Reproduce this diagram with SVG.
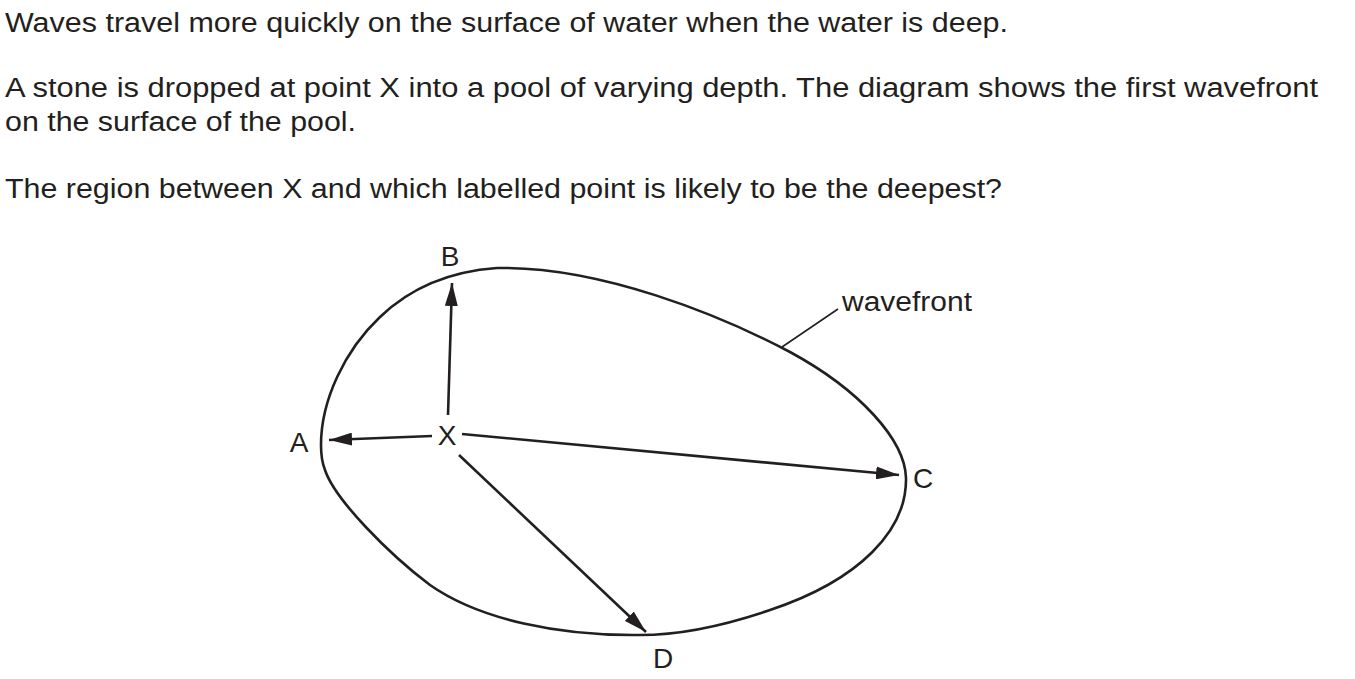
<svg xmlns="http://www.w3.org/2000/svg" width="1355" height="679" viewBox="0 0 1355 679">
<style>
text{font-family:"Liberation Sans",Arial,sans-serif;font-size:27px;fill:#231f20}
.lbl{text-anchor:middle;font-size:28px}
.ln{stroke:#231f20;stroke-width:2.6;fill:none}
</style>
<defs>
<marker id="ah" markerWidth="23" markerHeight="13" refX="23" refY="6.5" orient="auto" markerUnits="userSpaceOnUse">
<path d="M0,0 L23,6.5 L0,13 Z" fill="#231f20"/>
</marker>
</defs>
<rect width="1355" height="679" fill="#fff"/>
<g id="question">
<text x="5" y="32" textLength="1003" lengthAdjust="spacingAndGlyphs">Waves travel more quickly on the surface of water when the water is deep.</text>
<text x="5" y="97" textLength="1313" lengthAdjust="spacingAndGlyphs">A stone is dropped at point X into a pool of varying depth. The diagram shows the first wavefront</text>
<text x="5" y="131" textLength="351" lengthAdjust="spacingAndGlyphs">on the surface of the pool.</text>
<text x="5" y="198" textLength="997" lengthAdjust="spacingAndGlyphs">The region between X and which labelled point is likely to be the deepest?</text>
</g>
<g id="wavefront">
<path class="ln" d="M321,445 C321,400 345,350 380,317 C405,293 440,272 497,268 C600,266 720,315 790,352 C860,390 905,440 906,478 C907,530 860,580 770,610 C720,627 680,635 640,635 C560,636 480,620 430,585 C390,555 335,500 325,470 C321,460 321,450 321,445 Z"/>
<line x1="782" y1="347" x2="838" y2="309" stroke="#231f20" stroke-width="1.6"/>
<text x="842" y="311" textLength="130" lengthAdjust="spacingAndGlyphs">wavefront</text>
</g>
<g id="connectors">
<line class="ln" x1="432" y1="436" x2="329" y2="440" marker-end="url(#ah)"/>
<line class="ln" x1="448" y1="415" x2="452" y2="283" marker-end="url(#ah)"/>
<line class="ln" x1="462" y1="434" x2="899" y2="475" marker-end="url(#ah)"/>
<line class="ln" x1="459" y1="455" x2="646" y2="632" marker-end="url(#ah)"/>
</g>
<g id="X"><text class="lbl" x="447" y="445">X</text></g>
<g id="A"><text class="lbl" x="299" y="452">A</text></g>
<g id="B"><text class="lbl" x="450" y="266">B</text></g>
<g id="C"><text class="lbl" x="923" y="488">C</text></g>
<g id="D"><text class="lbl" x="663" y="668">D</text></g>
</svg>
